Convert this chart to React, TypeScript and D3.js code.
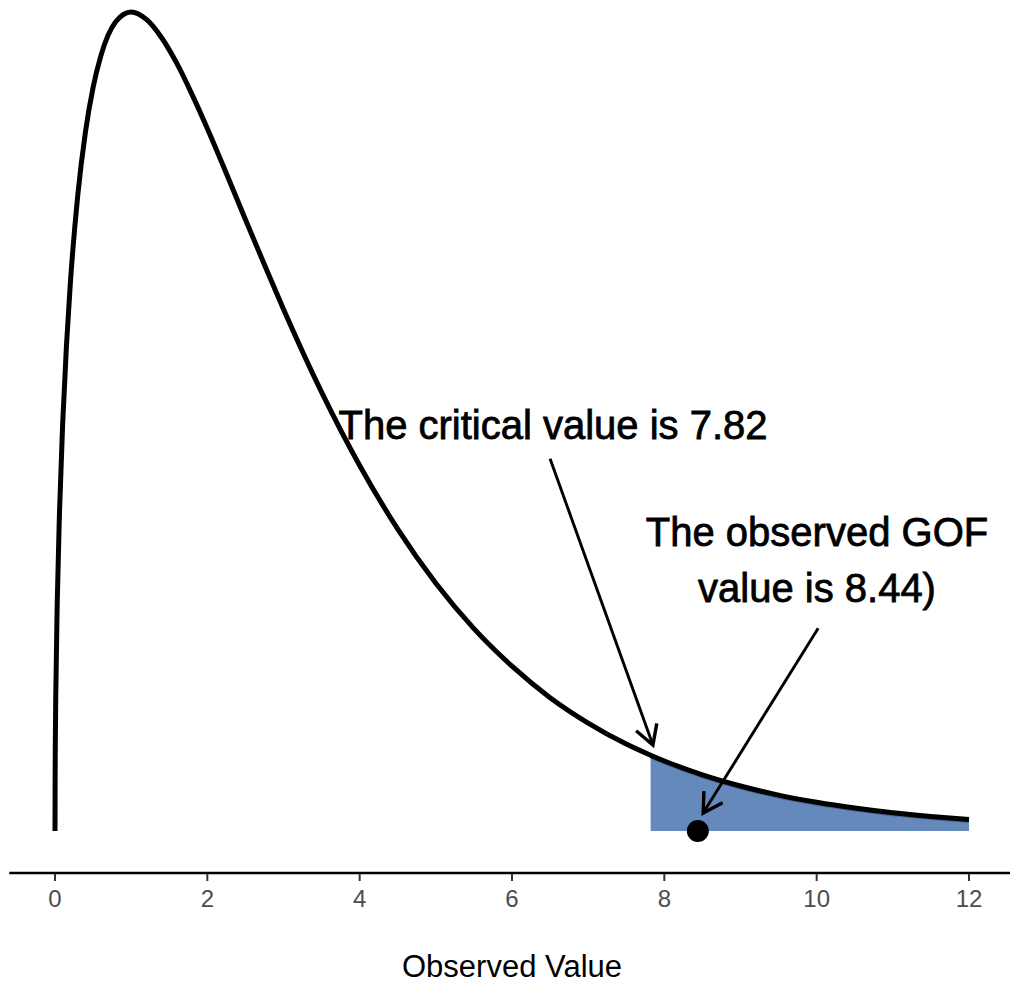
import { area, curveMonotoneX, line, scaleLinear } from 'd3'

// chi-square (df = 3) density
const densityX = [
  0, 0.002, 0.005, 0.01, 0.03, 0.06, 0.1, 0.15, 0.2, 0.3, 0.4, 0.5, 0.6, 0.8,
  1.0, 1.2, 1.4, 1.6, 1.8, 2.0, 2.25, 2.5, 2.75, 3.0, 3.5, 4.0, 4.5, 5.0, 5.5,
  6.0, 6.5, 7.0, 7.5, 7.82, 8.0, 8.5, 9.0, 9.5, 10, 10.5, 11, 11.5, 12,
]
const densityY = [
  0, 0.0178, 0.0281, 0.0397, 0.0681, 0.0948, 0.12, 0.1433, 0.1614, 0.1881,
  0.2066, 0.2197, 0.2289, 0.2392, 0.242, 0.2398, 0.2344, 0.2268, 0.2176,
  0.2076, 0.1943, 0.1807, 0.1673, 0.1542, 0.1297, 0.108, 0.0892, 0.0732,
  0.0598, 0.0487, 0.0394, 0.0319, 0.0257, 0.0224, 0.0207, 0.0166, 0.0133,
  0.0106, 0.0085, 0.0068, 0.0054, 0.0043, 0.0034,
]
const xTicks = [0, 2, 4, 6, 8, 10, 12]

const criticalValue = 7.82
const observedValue = 8.44

const criticalLabel = ['The critical value is 7.82']
const observedLabel = ['The observed GOF', 'value is 8.44)']

// arrows: [x1, y1, x2, y2] in data units
const criticalArrow = [6.5, 0.11, 7.85, 0.0254]
const observedArrow = [10.02, 0.0599, 8.51, 0.0053]

const width = 1010
const height = 984

type Pt = { x: number; y: number }

function Arrow({ seg, xs, ys }: { seg: number[]; xs: (v: number) => number; ys: (v: number) => number }) {
  const x1 = xs(seg[0])
  const y1 = ys(seg[1])
  const x2 = xs(seg[2])
  const y2 = ys(seg[3])
  const ang = Math.atan2(y2 - y1, x2 - x1)
  const len = 22
  const spread = Math.PI / 6
  const a = { x: x2 - len * Math.cos(ang - spread), y: y2 - len * Math.sin(ang - spread) }
  const b = { x: x2 - len * Math.cos(ang + spread), y: y2 - len * Math.sin(ang + spread) }
  return (
    <g stroke="#000" fill="none" strokeWidth={2.9}>
      <line x1={x1} y1={y1} x2={x2} y2={y2} />
      <polyline points={`${a.x},${a.y} ${x2},${y2} ${b.x},${b.y}`} strokeWidth={3.4} strokeLinejoin="miter" />
    </g>
  )
}

export default function App() {
  const x = scaleLinear().domain([0, 12]).range([55, 969])
  const y = scaleLinear().domain([0, 0.242]).range([831, 12])

  const pts: Pt[] = densityX.map((d, i) => ({ x: d, y: densityY[i] }))
  const tail = pts.filter((p) => p.x >= criticalValue)

  const curve = line<Pt>()
    .x((p) => x(p.x))
    .y((p) => y(p.y))
    .curve(curveMonotoneX)

  const tailArea = area<Pt>()
    .x((p) => x(p.x))
    .y0(y(0))
    .y1((p) => y(p.y))
    .curve(curveMonotoneX)

  const axisY = 873

  return (
    <svg
      width={width}
      height={height}
      style={{ position: 'absolute', left: 0, top: 0, background: '#fff' }}
      fontFamily="'Liberation Sans', Arial, Helvetica, sans-serif"
    >
      <path d={tailArea(tail) ?? ''} fill="#6689bb" />
      <path
        d={curve(tail) ?? ''}
        fill="none"
        stroke="#46679a"
        strokeWidth={3}
        transform="translate(0, 2)"
      />
      <path d={curve(pts) ?? ''} fill="none" stroke="#000" strokeWidth={5} />

      <circle cx={x(observedValue)} cy={y(0)} r={11} fill="#000" />

      <Arrow seg={criticalArrow} xs={x} ys={y} />
      <Arrow seg={observedArrow} xs={x} ys={y} />

      <g fontSize={40} fill="#000" stroke="#000" strokeWidth={0.8} textAnchor="middle">
        <text x={553} y={439}>
          {criticalLabel[0]}
        </text>
        {observedLabel.map((t, i) => (
          <text key={t} x={817} y={546 + i * 56}>
            {t}
          </text>
        ))}
      </g>

      <line x1={x(-0.6)} x2={x(12.6)} y1={axisY} y2={axisY} stroke="#000" strokeWidth={2.5} />
      {xTicks.map((t) => (
        <g key={t}>
          <line x1={x(t)} x2={x(t)} y1={axisY + 1} y2={axisY + 8} stroke="#333" strokeWidth={2} />
          <text x={x(t)} y={907} textAnchor="middle" fontSize={24} fill="#4d4d4d">
            {t}
          </text>
        </g>
      ))}

      <text x={512} y={977} textAnchor="middle" fontSize={31} fill="#000">
        Observed Value
      </text>
    </svg>
  )
}
